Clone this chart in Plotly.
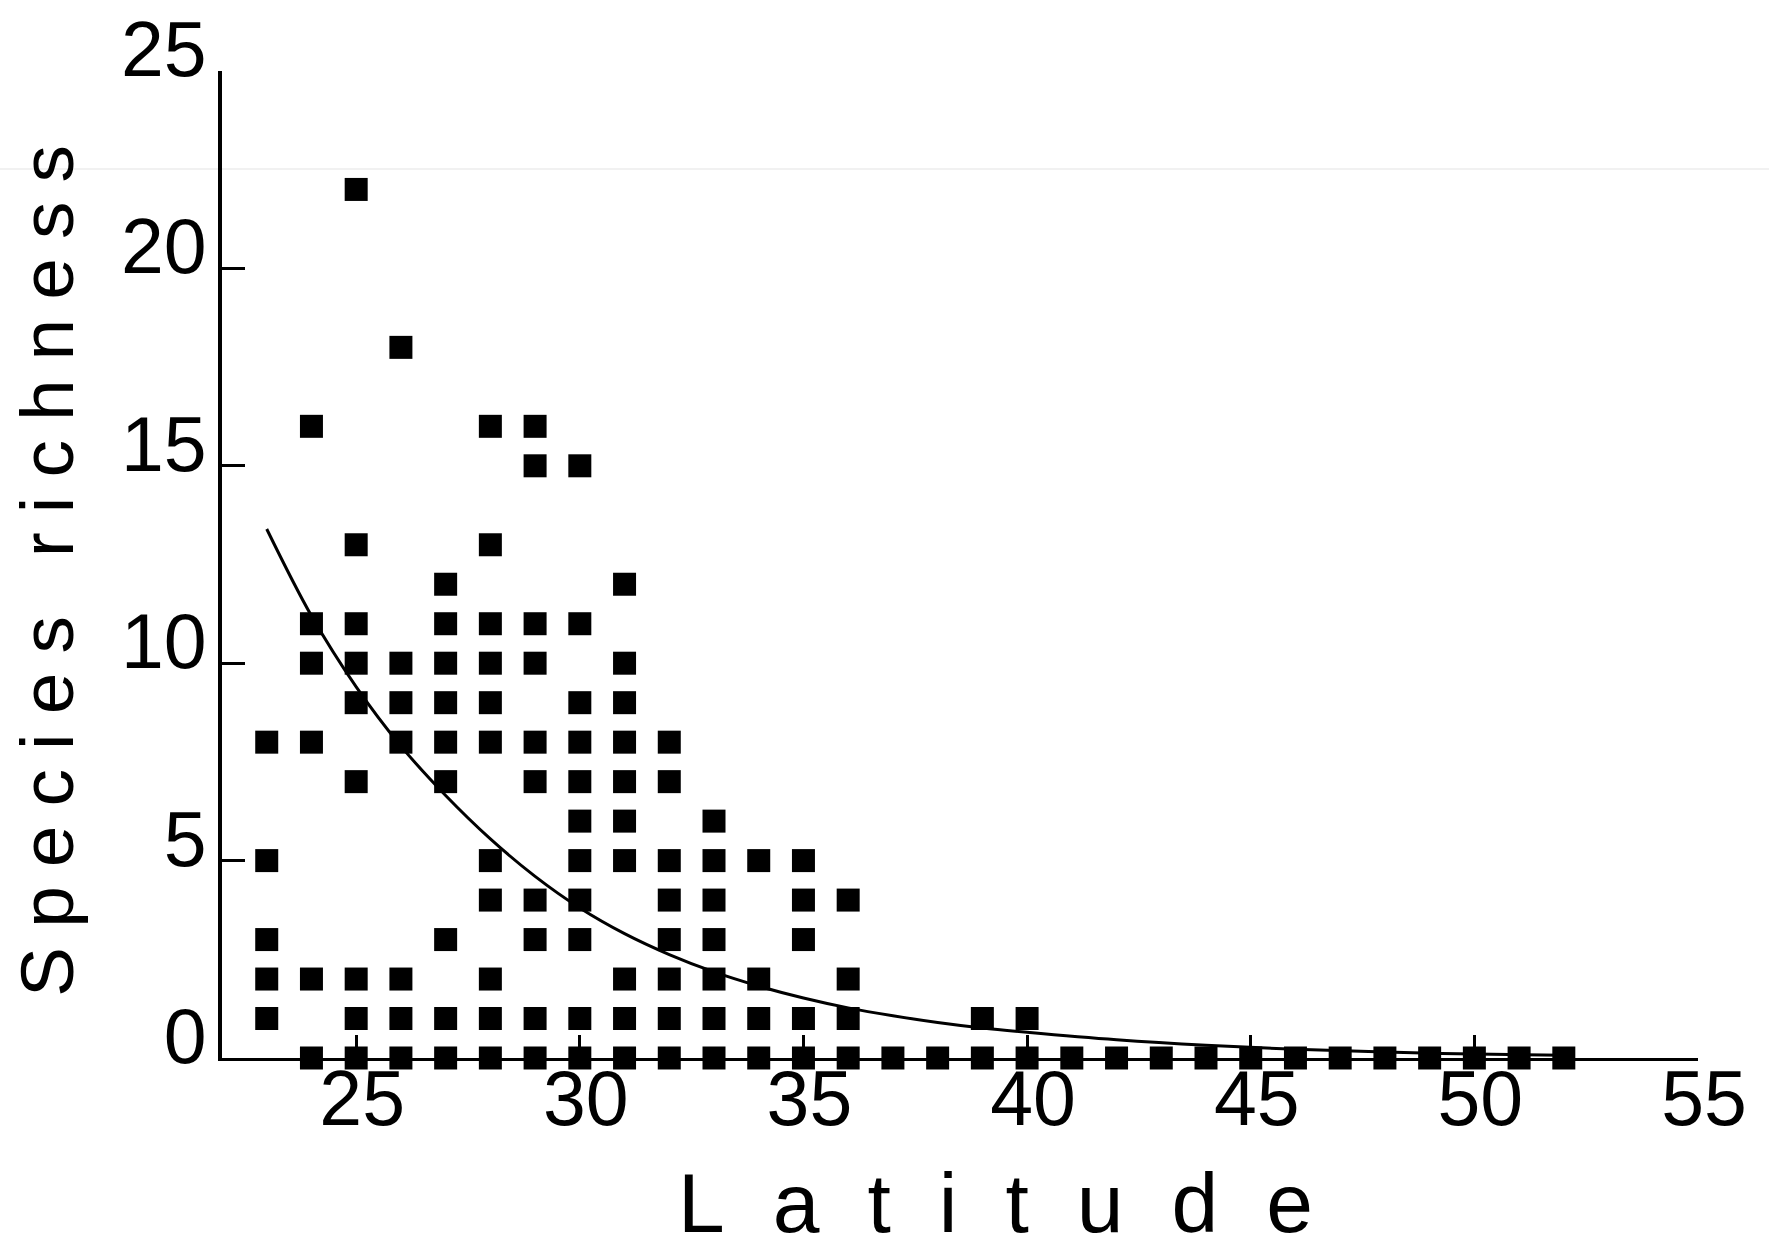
import plotly.graph_objects as go

# Observed species richness per sampling site, grouped by latitude (degrees N)
latitude = (
    [23] * 5 + [24] * 6 + [25] * 9 + [26] * 7 + [27] * 9 + [28] * 11
    + [29] * 10 + [30] * 11 + [31] * 10 + [32] * 8 + [33] * 7 + [34] * 4
    + [35] * 5 + [36] * 4 + [37, 38] + [39] * 2 + [40] * 2
    + [41, 42, 43, 44, 45, 46, 47, 48, 49, 50, 51, 52]
)
richness = (
    [8, 5, 3, 2, 1]
    + [16, 11, 10, 8, 2, 0]
    + [22, 13, 11, 10, 9, 7, 2, 1, 0]
    + [18, 10, 9, 8, 2, 1, 0]
    + [12, 11, 10, 9, 8, 7, 3, 1, 0]
    + [16, 13, 11, 10, 9, 8, 5, 4, 2, 1, 0]
    + [16, 15, 11, 10, 8, 7, 4, 3, 1, 0]
    + [15, 11, 9, 8, 7, 6, 5, 4, 3, 1, 0]
    + [12, 10, 9, 8, 7, 6, 5, 2, 1, 0]
    + [8, 7, 5, 4, 3, 2, 1, 0]
    + [6, 5, 4, 3, 2, 1, 0]
    + [5, 2, 1, 0]
    + [5, 4, 3, 1, 0]
    + [4, 2, 1, 0]
    + [0, 0]
    + [1, 0]
    + [1, 0]
    + [0] * 12
)

# Fitted decay curve of richness against latitude
curve_latitude = [23, 24, 25, 26, 27, 28, 29, 30, 31, 32, 33, 34, 35, 36,
                  37, 38, 39, 40, 42, 44, 46, 48, 50, 52]
curve_richness = [13.4, 11.2, 9.4, 7.9, 6.65, 5.55, 4.6, 3.8, 3.15, 2.62,
                  2.18, 1.82, 1.52, 1.27, 1.07, 0.9, 0.76, 0.65, 0.46, 0.32,
                  0.22, 0.15, 0.1, 0.07]

x_ticks = [25, 30, 35, 40, 45, 50, 55]
y_ticks = [0, 5, 10, 15, 20, 25]

FONT = "Liberation Sans, Arial, Helvetica, sans-serif"

fig = go.Figure()

fig.add_trace(go.Scatter(
    x=curve_latitude, y=curve_richness,
    mode="lines", line=dict(color="black", width=3, shape="spline"),
    hoverinfo="skip", showlegend=False,
))

fig.add_trace(go.Scatter(
    x=latitude, y=richness,
    mode="markers",
    marker=dict(symbol="square", size=23, color="black", line=dict(width=0)),
    cliponaxis=False, showlegend=False,
))

axis_common = dict(
    showgrid=False, zeroline=False, showline=True, linecolor="black",
    ticks="inside", ticklen=23, tickwidth=3, tickcolor="black",
    tickfont=dict(family=FONT, size=77, color="black"),
    automargin=False,
)

fig.update_xaxes(
    range=[22, 55], tickvals=x_ticks, linewidth=3,
    ticklabelshift=6, ticklabelstandoff=-28, **axis_common,
)
fig.update_yaxes(
    range=[0, 25], tickvals=y_ticks, linewidth=4,
    ticklabelshift=-22, ticklabelstandoff=-4, **axis_common,
)

# Axis titles with wide letter spacing
fig.add_annotation(
    text='<span style="letter-spacing:48px">Latitude</span>',
    xref="paper", yref="paper", x=0.540, y=-0.147,
    xanchor="center", yanchor="middle", showarrow=False,
    font=dict(family=FONT, size=84, color="black"),
)
fig.add_annotation(
    text='<span style="letter-spacing:19px">Species richness</span>',
    xref="paper", yref="paper", x=-0.119, y=0.503, textangle=-90,
    xanchor="center", yanchor="middle", showarrow=False,
    font=dict(family=FONT, size=75, color="black"),
)

# Faint horizontal scan line across the page
fig.add_shape(
    type="line", xref="paper", yref="paper",
    x0=-222 / 1476, x1=(1769 - 222) / 1476, y0=(1058 - 169) / 987, y1=(1058 - 169) / 987,
    line=dict(color="#ececec", width=1.5), layer="below",
)

fig.update_layout(
    width=1769, height=1244,
    margin=dict(l=222, r=71, t=71, b=186, pad=0, autoexpand=False),
    paper_bgcolor="white", plot_bgcolor="white",
    showlegend=False,
)

fig.write_html("out.html")
